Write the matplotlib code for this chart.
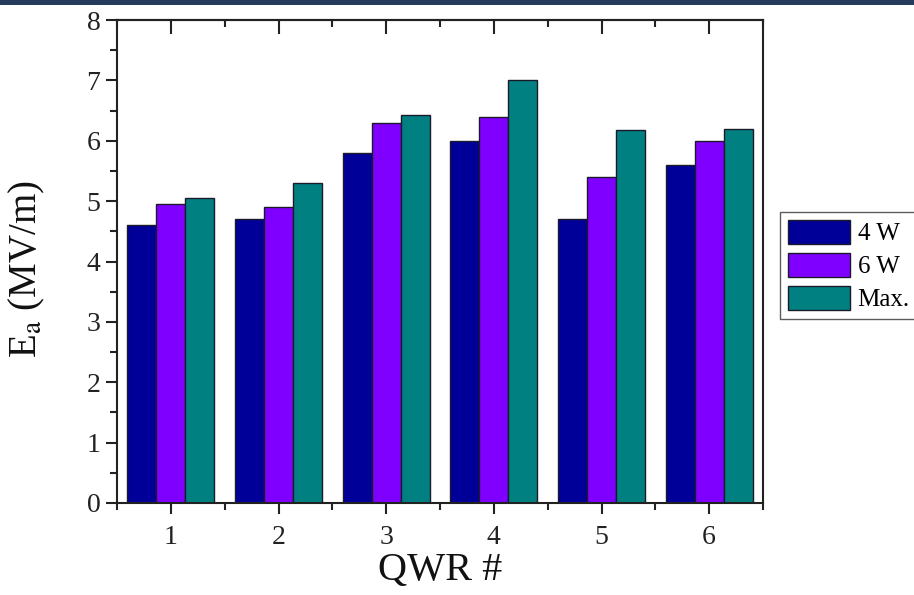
import matplotlib.pyplot as plt
import numpy as np
from matplotlib.patches import Rectangle
from matplotlib.ticker import MultipleLocator

# data
qwr = [1, 2, 3, 4, 5, 6]
ea_4w = [4.6, 4.7, 5.8, 6.0, 4.7, 5.6]
ea_6w = [4.95, 4.9, 6.3, 6.4, 5.4, 6.0]
ea_max = [5.05, 5.3, 6.43, 7.0, 6.18, 6.2]
series_labels = ["4 W", "6 W", "Max."]

colors = ["#000099", "#8000FF", "#008080"]

plt.rcParams["font.family"] = ["Liberation Serif", "DejaVu Serif"]
plt.rcParams["mathtext.fontset"] = "stix"

fig = plt.figure(figsize=(9.14, 5.95), dpi=100)
ax = fig.add_axes([117 / 914, 1 - 503 / 595, (763 - 117) / 914, (503 - 20) / 595])

# dark band at the very top (slide header)
fig.patches.append(Rectangle((0, 1 - 5 / 595), 1, 5 / 595, transform=fig.transFigure,
                             facecolor="#243B5C", edgecolor="none", zorder=0))

x = np.array(qwr)
w = 0.27
for i, (vals, c, lab) in enumerate(zip([ea_4w, ea_6w, ea_max], colors, series_labels)):
    ax.bar(x + (i - 1) * w, vals, width=w, color=c, edgecolor="#1a1a2a",
           linewidth=1.0, label=lab, zorder=2)

ax.set_xlim(0.5, 6.5)
ax.set_ylim(0, 8)
ax.set_xticks(qwr)
ax.xaxis.set_minor_locator(MultipleLocator(0.5))
ax.yaxis.set_major_locator(MultipleLocator(1))
ax.yaxis.set_minor_locator(MultipleLocator(0.5))

for s in ax.spines.values():
    s.set_linewidth(1.5)
    s.set_color("#222222")

ax.tick_params(axis="both", which="major", direction="out", length=8, width=1.5,
               labelsize=20, colors="#222222", pad=4)
ax.tick_params(axis="both", which="minor", direction="out", length=5, width=1.5,
               colors="#222222")
ax.tick_params(axis="x", which="major", pad=8)

# top axis with inward ticks, no labels
top = ax.secondary_xaxis("top")
top.set_xticks(qwr)
top.xaxis.set_minor_locator(MultipleLocator(0.5))
top.tick_params(which="major", direction="in", length=10, width=1.5, labeltop=False,
                colors="#222222")
top.tick_params(which="minor", direction="in", length=5, width=1.5, colors="#222222")
top.spines["top"].set_linewidth(1.5)

ax.set_xlabel("QWR #", fontsize=29, labelpad=1, color="#111111")
ax.set_ylabel(r"E$_{\mathrm{a}}$ (MV/m)", fontsize=28, color="#111111")
ax.yaxis.set_label_coords(-0.108, 0.485)

leg = ax.legend(loc="upper left", bbox_to_anchor=(780 / 914, 1 - 212 / 595),
                bbox_transform=fig.transFigure, fontsize=18, frameon=True,
                fancybox=False, edgecolor="#333333", borderaxespad=0,
                handlelength=2.5, handleheight=1.1, handletextpad=0.3,
                labelspacing=0.3, borderpad=0.3)
leg.get_frame().set_linewidth(1.0)

fig.savefig("out.png", dpi=100)
